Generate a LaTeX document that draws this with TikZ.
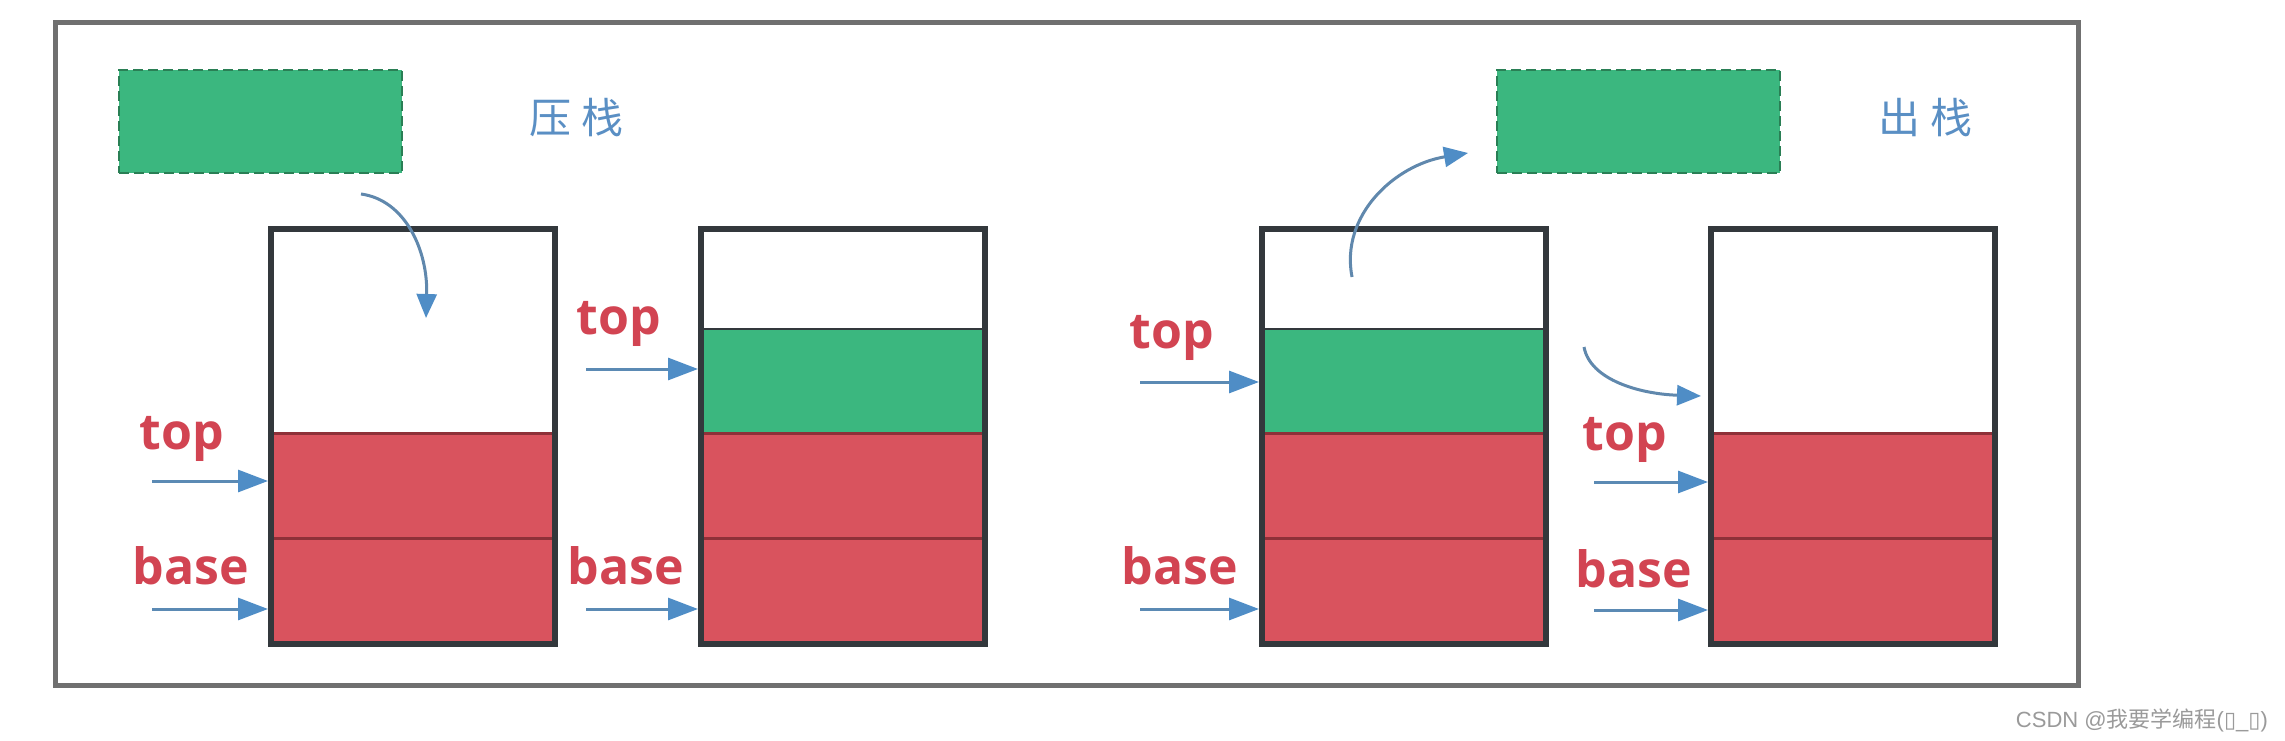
\documentclass[tikz,border=0pt]{standalone}
\usepackage{fontspec}
\setmainfont{Open Sans}
\newfontfamily\cjk{Noto Sans CJK SC}
\newfontfamily\dejavu{DejaVu Sans}
\usetikzlibrary{arrows.meta}
\definecolor{frameg}{HTML}{707070}
\definecolor{gfill}{HTML}{3BB77F}
\definecolor{gline}{HTML}{2A7F55}
\definecolor{rfill}{HTML}{D9535E}
\definecolor{rline}{HTML}{8E3038}
\definecolor{sline}{HTML}{33383C}
\definecolor{lblred}{HTML}{D24452}
\definecolor{arrblue}{HTML}{4F8DC6}
\definecolor{cntxt}{HTML}{5A8FC4}
\definecolor{wmark}{HTML}{9A9A9A}
\begin{document}
\begin{tikzpicture}[x=1pt,y=-1pt,
  cellw/.style={draw=sline,line width=2pt,fill=white,minimum width=284pt,inner sep=0pt},
  cellg/.style={draw=sline,line width=2pt,fill=gfill,minimum width=284pt,minimum height=104pt,inner sep=0pt},
  cellr/.style={draw=rline,line width=3pt,fill=rfill,minimum width=284pt,minimum height=105pt,inner sep=0pt},
  stackbox/.style={draw=sline,line width=6pt,minimum width=284pt,minimum height=415pt,inner sep=0pt},
  pending/.style={draw=gline,dashed,dash pattern=on 10pt off 5pt,line width=2.5pt,fill=gfill,minimum width=283pt,minimum height=103pt,inner sep=0pt},
  lbl/.style={text=lblred,font=\bfseries\fontsize{50}{50}\selectfont,inner sep=0pt},
  cnlbl/.style={text=cntxt,font=\cjk\fontsize{42}{42}\selectfont,inner sep=0pt},
  ptr/.style={draw=arrblue!75!gray,line width=3pt,-{Triangle[length=30pt,width=22pt,fill=arrblue,color=arrblue]}},
  mover/.style={draw=arrblue!65!gray,line width=3pt,-{Triangle[length=24pt,width=20pt,fill=arrblue,color=arrblue]}}
]
\useasboundingbox[fill=white] (0,0) rectangle (2285,741);
% outer frame
\draw[frameg,line width=5pt] (55,23) rectangle (2078,685);

% pending boxes and captions
\node[pending] (g1) at (260.5,121.5) {};
\node[cnlbl] (t1) at (576,118) {压\hspace{10pt}栈};
\node[pending] (g2) at (1638.5,121.5) {};
\node[cnlbl] (t2) at (1925,118) {出\hspace{10pt}栈};

% stack 1
\node[cellw,minimum height=204pt] (s1e) at (413,331) {};
\node[cellr] (s1b) at (413,485.5) {};
\node[cellr] (s1a) at (413,591) {};
\node[stackbox] (s1) at (413,436.5) {};

% stack 2
\node[cellw,minimum height=100pt] (s2e) at (843,279) {};
\node[cellg] (s2c) at (843,381) {};
\node[cellr] (s2b) at (843,485.5) {};
\node[cellr] (s2a) at (843,591) {};
\node[stackbox] (s2) at (843,436.5) {};

% stack 3
\node[cellw,minimum height=100pt] (s3e) at (1404,279) {};
\node[cellg] (s3c) at (1404,381) {};
\node[cellr] (s3b) at (1404,485.5) {};
\node[cellr] (s3a) at (1404,591) {};
\node[stackbox] (s3) at (1404,436.5) {};

% stack 4
\node[cellw,minimum height=204pt] (s4e) at (1853,331) {};
\node[cellr] (s4b) at (1853,485.5) {};
\node[cellr] (s4a) at (1853,591) {};
\node[stackbox] (s4) at (1853,436.5) {};

% labels
\node[lbl] (top1) at (182,439) {top};
\node[lbl] (base1) at (191,566) {base};
\node[lbl] (top2) at (619,324) {top};
\node[lbl] (base2) at (626,566) {base};
\node[lbl] (top3) at (1172,338) {top};
\node[lbl] (base3) at (1180,566) {base};
\node[lbl] (top4) at (1625,440) {top};
\node[lbl] (base4) at (1634,569) {base};

% pointer arrows
\coordinate (p1) at (152,481);
\coordinate (q1) at (152,609);
\coordinate (p2) at (586,369);
\coordinate (q2) at (586,609);
\coordinate (p3) at (1140,382);
\coordinate (q3) at (1140,609);
\coordinate (p4) at (1594,482);
\coordinate (q4) at (1594,610);
\draw[ptr] (p1) -- (p1 -| s1.west);
\draw[ptr] (q1) -- (q1 -| s1.west);
\draw[ptr] (p2) -- (p2 -| s2.west);
\draw[ptr] (q2) -- (q2 -| s2.west);
\draw[ptr] (p3) -- (p3 -| s3.west);
\draw[ptr] (q3) -- (q3 -| s3.west);
\draw[ptr] (p4) -- (p4 -| s4.west);
\draw[ptr] (q4) -- (q4 -| s4.west);

% curved moves
\coordinate (m1s) at (361,194);
\coordinate (m1e) at (426,318);
\draw[mover] (m1s) .. controls (405,200) and (428,250) .. (m1e);
\coordinate (m2s) at (1352,277);
\coordinate (m2e) at (1468,153);
\draw[mover] (m2s) .. controls (1340,215) and (1395,165) .. (m2e);
\coordinate (m3s) at (1584,347);
\coordinate (m3e) at (1701,396);
\draw[mover] (m3s) .. controls (1590,380) and (1640,394) .. (m3e);

% watermark
\node[text=wmark,font=\fontsize{22}{22}\selectfont,inner sep=0pt,anchor=east] (wm) at (2268,720)
  {\fontspec{Liberation Sans}CSDN @{\cjk 我要学编程}({\dejavu ▯}\_{\dejavu ▯})};
\end{tikzpicture}
\end{document}
